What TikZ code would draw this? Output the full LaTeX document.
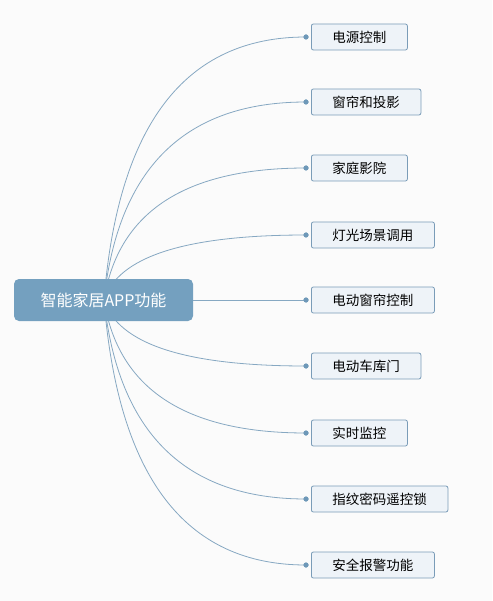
\documentclass[tikz,border=0pt]{standalone}
\usepackage{fontspec}
\setmainfont{Noto Sans CJK SC}
\definecolor{bg}{HTML}{FBFBFB}
\definecolor{rootfill}{HTML}{74A0BF}
\definecolor{childfill}{HTML}{EEF3F8}
\definecolor{childdraw}{HTML}{7A9CB8}
\definecolor{wire}{HTML}{86A8C2}
\definecolor{dotc}{HTML}{6E98B8}
\tikzset{
  rootbox/.style={fill=rootfill, rounded corners=5pt, minimum width=179pt, minimum height=42pt, text=white, font=\fontsize{16}{19}\selectfont, inner sep=0pt},
  childbox/.style={draw=childdraw, fill=childfill, rounded corners=2pt, minimum height=26pt, anchor=west, inner xsep=21pt, inner ysep=0pt, font=\fontsize{13.5}{16}\selectfont, line width=0.8pt},
  wireline/.style={draw=wire, line width=0.8pt},
  dotmark/.style={circle, fill=dotc, inner sep=0pt, minimum size=5pt}
}
\begin{document}
\begin{tikzpicture}[x=1pt,y=-1pt]
\fill[bg] (0,0) rectangle (492,601);
\useasboundingbox (0,0) rectangle (492,601);
\coordinate (c) at (104,300);
\foreach \i/\y/\t in {1/37/电源控制,2/102/窗帘和投影,3/168/家庭影院,4/235/灯光场景调用,5/300/电动窗帘控制,6/366/电动车库门,7/433/实时监控,8/499/指纹密码遥控锁,9/565/安全报警功能}{
  \node[childbox] (n\i) at (311,\y) {\t};
  \node[dotmark] (d\i) at (306,\y) {};
}
\foreach \i/\y in {1/37,2/102,3/168,4/235,6/366,7/433,8/499,9/565}{
  \pgfmathsetmacro{\cy}{300+2*(\y-300)/3}
  \draw[wireline] (c) .. controls (118,\cy) and (185,\y) .. (d\i.center);
}
\node[rootbox] (root) at (103.5,300) {智能家居APP功能};
\draw[wireline] (root.east) -- (d5.center);
\foreach \i in {1,...,9}{ \node[dotmark] at (d\i) {}; }
\end{tikzpicture}
\end{document}
